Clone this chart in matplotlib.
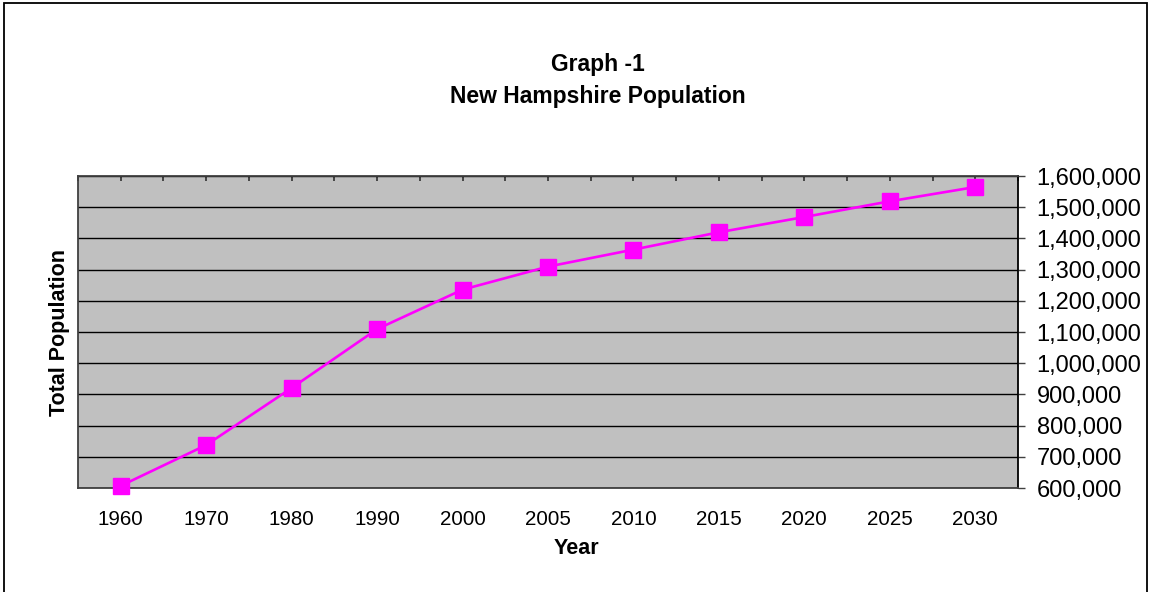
import matplotlib.pyplot as plt
from matplotlib.patches import Rectangle
from matplotlib.ticker import FuncFormatter

years = ["1960", "1970", "1980", "1990", "2000", "2005", "2010", "2015", "2020", "2025", "2030"]
population = [606921, 737681, 920610, 1109252, 1235786, 1309600, 1364100, 1419600, 1468600, 1518900, 1564700]
y_ticks = [600000, 700000, 800000, 900000, 1000000, 1100000, 1200000, 1300000, 1400000, 1500000, 1600000]

plt.rcParams['font.family'] = ['Liberation Sans', 'DejaVu Sans']

fig = plt.figure(figsize=(11.49, 5.92), dpi=100)
W, H = 1149, 592

# outer chart border (bottom edge runs off the image)
fig.patches.append(Rectangle((4 / W, -0.05), 1143 / W, 1 - 2.5 / H + 0.05,
                             transform=fig.transFigure, fill=False,
                             edgecolor='black', linewidth=1.3))

ax = fig.add_axes([78 / W, 1 - 488 / H, 940 / W, 312 / H])
ax.set_facecolor('#c0c0c0')

x = list(range(len(years)))
ax.plot(x, population, color='#ff00ff', linewidth=1.9, marker='s',
        markersize=11, markerfacecolor='#ff00ff', markeredgecolor='#ff00ff',
        zorder=3, clip_on=False)

ax.set_xlim(-0.5, len(years) - 0.5)
ax.set_ylim(600000, 1600000)

ax.set_xticks(x)
ax.set_xticklabels(years, fontsize=14.8)
ax.set_xticks([i - 0.5 for i in range(len(years) + 1)], minor=True)
ax.tick_params(axis='x', which='both', bottom=False, top=True, direction='in',
               length=3.5, width=1.2, color='#303030', pad=16)

ax.yaxis.tick_right()
ax.set_yticks(y_ticks)
ax.yaxis.set_major_formatter(FuncFormatter(lambda v, p: f"{int(v):,}"))
ax.tick_params(axis='y', direction='out', length=5, width=1, color='#404040',
               labelsize=17, pad=8.5)

ax.grid(axis='y', color='black', linewidth=1)
ax.set_axisbelow(True)
for side in ['left', 'bottom', 'top']:
    ax.spines[side].set_color('#404040')
    ax.spines[side].set_linewidth(1.3)
ax.spines['right'].set_color('black')
ax.spines['right'].set_linewidth(1.3)

fig.text(598 / W, 1 - 65 / H, "Graph -1", ha='center', va='center',
         fontsize=16.5, fontweight='bold')
fig.text(598 / W, 1 - 96 / H, "New Hampshire Population", ha='center', va='center',
         fontsize=16.5, fontweight='bold')
fig.text(60 / W, 1 - 332 / H, "Total Population", ha='center', va='center',
         rotation=90, fontsize=15.5, fontweight='bold')
fig.text(576 / W, 1 - 549 / H, "Year", ha='center', va='center',
         fontsize=15.5, fontweight='bold')

fig.savefig("out.png", dpi=100)
